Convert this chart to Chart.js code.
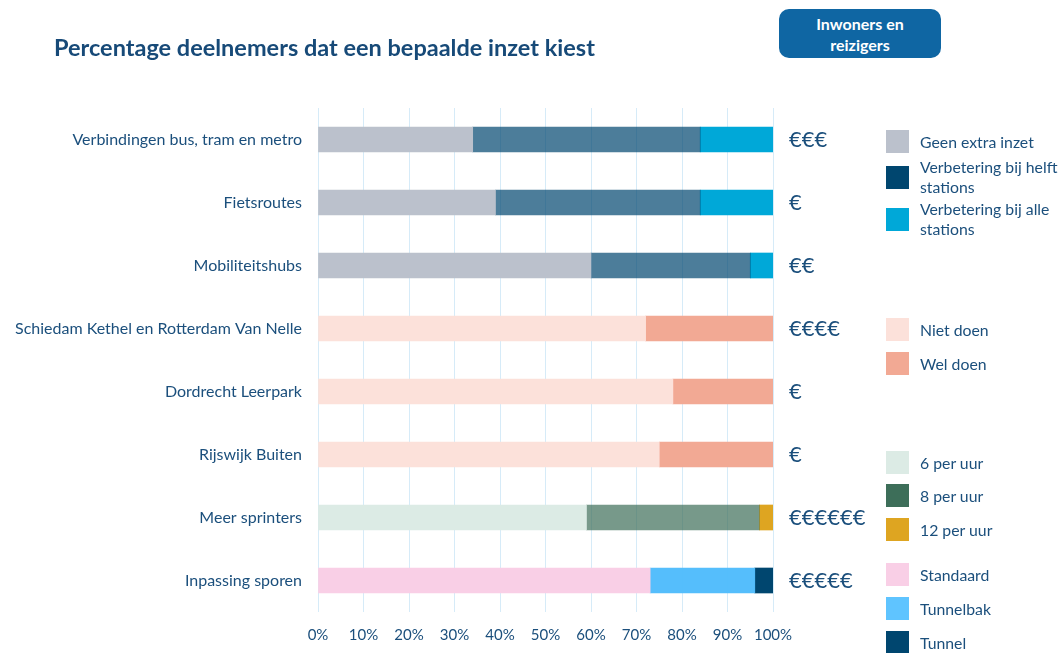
<!DOCTYPE html>
<html>
<head>
<meta charset="utf-8">
<script src="https://cdn.jsdelivr.net/npm/chart.js@4"></script>
<style>
  body { margin: 0; background: #fff; font-family: Lato, "Noto Sans", sans-serif; }
  #wrap { position: relative; width: 1063px; height: 653px; overflow: hidden; }
  #title { position: absolute; left: 54px; top: 33px; font-size: 23.5px; font-weight: bold; color: #174a78; }
  #badge { position: absolute; left: 779px; top: 9px; width: 162px; height: 49px; border-radius: 10px;
           background: #0f66a3; color: #fff; font-weight: bold; font-size: 16px; line-height: 21px;
           display: flex; align-items: center; justify-content: center; text-align: center; }
  .lg { position: absolute; left: 886px; display: flex; align-items: center; }
  .lg .box { width: 23px; height: 23px; flex: none; }
  .lg .txt { margin-left: 11px; font-size: 15.8px; line-height: 20px; color: #1b4f7c; }
  canvas { position: absolute; left: 0; top: 0; }
</style>
</head>
<body>
<div id="wrap">
  <canvas id="myChart" width="1063" height="653"></canvas>
  <div id="title">Percentage deelnemers dat een bepaalde inzet kiest</div>
  <div id="badge">Inwoners en<br>reizigers</div>
</div>
<script>
// Dataset
const categories = [
  "Verbindingen bus, tram en metro",
  "Fietsroutes",
  "Mobiliteitshubs",
  "Schiedam Kethel en Rotterdam Van Nelle",
  "Dordrecht Leerpark",
  "Rijswijk Buiten",
  "Meer sprinters",
  "Inpassing sporen"
];
const costLabels = ["€€€", "€", "€€", "€€€€", "€", "€", "€€€€€€", "€€€€€"];

const geenExtra = [34, 39, 60, null, null, null, null, null];
const helftStations = [50, 45, 35, null, null, null, null, null];
const alleStations = [16, 16, 5, null, null, null, null, null];
const nietDoen = [null, null, null, 72, 78, 75, null, null];
const welDoen = [null, null, null, 28, 22, 25, null, null];
const per6 = [null, null, null, null, null, null, 59, null];
const per8 = [null, null, null, null, null, null, 38, null];
const per12 = [null, null, null, null, null, null, 3, null];
const standaard = [null, null, null, null, null, null, null, 73];
const tunnelbak = [null, null, null, null, null, null, null, 23];
const tunnel = [null, null, null, null, null, null, null, 4];

const xTicks = [0, 10, 20, 30, 40, 50, 60, 70, 80, 90, 100];

const series = [
  { label: "Geen extra inzet", data: geenExtra, color: "#bbc1cc", bar: "#bbc1cc" },
  { label: "Verbetering bij helft stations", data: helftStations, color: "#00466f", bar: "rgba(0,70,111,0.7)" },
  { label: "Verbetering bij alle stations", data: alleStations, color: "#00a8d8", bar: "#00a8d8" },
  { label: "Niet doen", data: nietDoen, color: "#fce1da", bar: "#fce1da" },
  { label: "Wel doen", data: welDoen, color: "#f2a994", bar: "#f2a994" },
  { label: "6 per uur", data: per6, color: "#dcebe5", bar: "#dcebe5" },
  { label: "8 per uur", data: per8, color: "#3d6e59", bar: "rgba(61,110,89,0.7)" },
  { label: "12 per uur", data: per12, color: "#dea521", bar: "#dea521" },
  { label: "Standaard", data: standaard, color: "#f9cfe6", bar: "#f9cfe6" },
  { label: "Tunnelbak", data: tunnelbak, color: "#5fc4ff", bar: "rgba(80,188,252,0.97)" },
  { label: "Tunnel", data: tunnel, color: "#00466f", bar: "#00466f" }
];

// legend layout (top of each swatch)
const legendTops = [130, 166, 208, 318, 352, 451, 484, 518, 563, 597, 631];
const wrap = document.getElementById("wrap");
series.forEach((s, i) => {
  const item = document.createElement("div");
  item.className = "lg";
  const twoLine = s.label.startsWith("Verbetering");
  item.style.top = (legendTops[i] - (twoLine ? 9 : 0)) + "px";
  if (twoLine) item.style.width = "180px";
  const box = document.createElement("div");
  box.className = "box";
  box.style.background = s.color;
  const txt = document.createElement("div");
  txt.className = "txt";
  txt.textContent = s.label;
  item.appendChild(box);
  item.appendChild(txt);
  wrap.appendChild(item);
});

const textColor = "#1b4f7c";

new Chart(document.getElementById("myChart").getContext("2d"), {
  type: "bar",
  data: {
    labels: categories,
    datasets: series.map(s => ({
      label: s.label,
      data: s.data,
      backgroundColor: s.bar,
      borderWidth: 0,
      barThickness: 25
    }))
  },
  options: {
    indexAxis: "y",
    responsive: false,
    animation: false,
    layout: { padding: { top: 108, bottom: 0, left: 0, right: 0 } },
    plugins: { legend: { display: false }, tooltip: { enabled: false } },
    scales: {
      x: {
        stacked: true,
        min: 0,
        max: 100,
        afterBuildTicks: axis => { axis.ticks = xTicks.map(v => ({ value: v })); },
        afterFit: axis => { axis.height = 41; },
        grid: { color: "#d6ebf8", drawTicks: false },
        border: { display: false },
        ticks: {
          padding: 14,
          color: textColor,
          font: { family: "Lato", size: 15 },
          callback: v => v + "%"
        }
      },
      y: {
        stacked: true,
        afterFit: axis => { axis.width = 318; },
        grid: { display: false, drawTicks: false },
        border: { display: false },
        ticks: {
          padding: 16,
          color: textColor,
          font: { family: "Lato", size: 16 }
        }
      },
      y2: {
        type: "category",
        position: "right",
        labels: costLabels,
        offset: true,
        afterFit: axis => { axis.width = 1063 - 773; },
        grid: { display: false, drawTicks: false },
        border: { display: false },
        ticks: {
          padding: 16,
          color: textColor,
          font: { family: "Lato", size: 22 }
        }
      }
    }
  }
});
</script>
</body>
</html>
